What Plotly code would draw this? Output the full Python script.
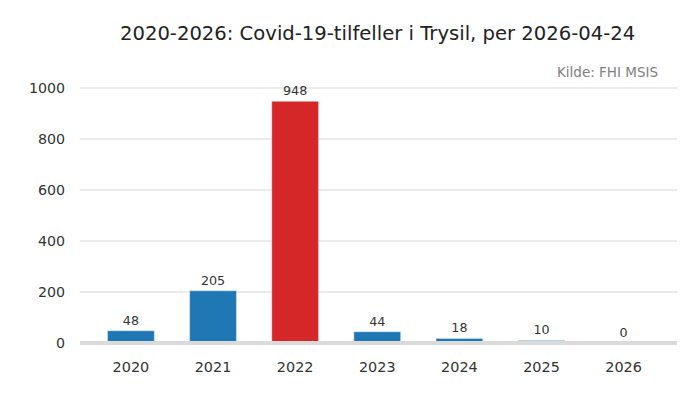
import plotly.graph_objects as go

years = ["2020", "2021", "2022", "2023", "2024", "2025", "2026"]
cases = [48, 205, 948, 44, 18, 10, 0]
peak_year = "2022"

colors = ['#d62728' if y == peak_year else '#1f77b4' for y in years]

fig = go.Figure()
fig.add_trace(go.Bar(
    x=years,
    y=cases,
    marker_color=colors,
    width=0.57,
    text=[str(c) for c in cases],
    textposition='outside',
    textfont=dict(size=12.7, color='#333333'),
    cliponaxis=False,
))

fig.update_layout(
    title=dict(text="2020-2026: Covid-19-tilfeller i Trysil, per 2026-04-24",
               x=0.528, xanchor='center', y=0.9375, yanchor='middle',
               font=dict(size=19.6, color='#222222')),
    paper_bgcolor='white',
    plot_bgcolor='white',
    font=dict(family="DejaVu Sans", size=14, color='#333333'),
    width=700, height=400,
    margin=dict(l=72, r=31, t=52, b=65),
    showlegend=False,
    xaxis=dict(type='category', range=[-0.62, 6.65], showgrid=False,
               ticks='', ticklabelstandoff=14, tickfont=dict(size=14.4)),
    yaxis=dict(range=[0, 1110], tickvals=[0, 200, 400, 600, 800, 1000],
               gridcolor='#ebebeb', gridwidth=1.5, zeroline=False,
               ticks='', ticklabelstandoff=14, tickfont=dict(size=14.2)),
)

# baseline drawn above the bars, as in the original
fig.add_shape(type='line', xref='paper', yref='paper', x0=0, x1=1, y0=0, y1=0,
              line=dict(color='#dadada', width=4), layer='above')

fig.add_annotation(text="Kilde: FHI MSIS", xref='paper', yref='paper',
                   x=0.9715, y=1.0, xanchor='right', yanchor='middle', yshift=-12,
                   showarrow=False, font=dict(size=13.5, color='#808080'))

fig.write_html("out.html")
